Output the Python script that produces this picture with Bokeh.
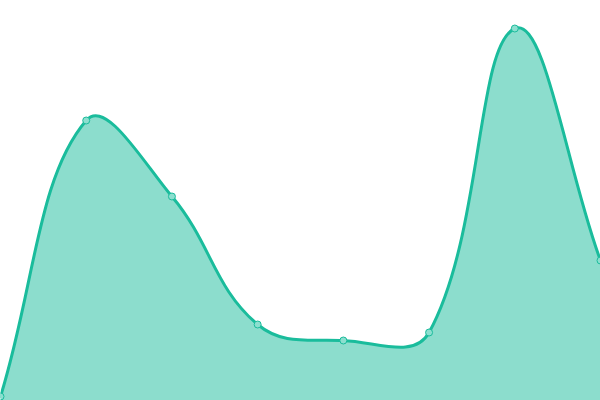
import numpy as np
from bokeh.plotting import figure
from bokeh.embed import file_html
from bokeh.resources import INLINE

# data
categories = list(range(8))
values = [1, 70, 51, 19, 15, 17, 93, 35]
y_min, y_max = 0, 100

W, H = 600, 400
TENSION = 0.4
LINE = "#1abc9c"
POINT_FILL = "#8cdfcf"

x = np.array(categories, dtype=float)
y = np.array(values, dtype=float)
sx = W / (len(x) - 1)
sy = H / (y_max - y_min)

# Chart.js style spline control points, computed in pixel space
px, py = x * sx, y * sy
n = len(px)
cp_prev = np.zeros((n, 2))
cp_next = np.zeros((n, 2))
for i in range(n):
    pi = max(i - 1, 0)
    ni = min(i + 1, n - 1)
    d01 = np.hypot(px[i] - px[pi], py[i] - py[pi])
    d12 = np.hypot(px[ni] - px[i], py[ni] - py[i])
    tot = d01 + d12
    s01 = d01 / tot if tot else 0
    s12 = d12 / tot if tot else 0
    fa, fb = TENSION * s01, TENSION * s12
    dx, dy = px[ni] - px[pi], py[ni] - py[pi]
    cp_prev[i] = (px[i] - fa * dx, py[i] - fa * dy)
    cp_next[i] = (px[i] + fb * dx, py[i] + fb * dy)
# cap to chart area
cp_prev[:, 0] = np.clip(cp_prev[:, 0], 0, W); cp_prev[:, 1] = np.clip(cp_prev[:, 1], 0, H)
cp_next[:, 0] = np.clip(cp_next[:, 0], 0, W); cp_next[:, 1] = np.clip(cp_next[:, 1], 0, H)

# back to data units
x0, y0 = x[:-1], y[:-1]
x1, y1 = x[1:], y[1:]
cx0, cy0 = cp_next[:-1, 0] / sx, cp_next[:-1, 1] / sy
cx1, cy1 = cp_prev[1:, 0] / sx, cp_prev[1:, 1] / sy

# sample curve for the filled area
t = np.linspace(0, 1, 60)[:, None]
bx = ((1 - t) ** 3 * x0 + 3 * (1 - t) ** 2 * t * cx0 + 3 * (1 - t) * t ** 2 * cx1 + t ** 3 * x1).T.ravel()
by = ((1 - t) ** 3 * y0 + 3 * (1 - t) ** 2 * t * cy0 + 3 * (1 - t) * t ** 2 * cy1 + t ** 3 * y1).T.ravel()

p = figure(width=W, height=H, output_backend="svg", toolbar_location=None,
           x_range=(x[0], x[-1]), y_range=(y_min, y_max),
           x_axis_location=None, y_axis_location=None, min_border=0)
p.grid.visible = False
p.outline_line_color = None
p.background_fill_color = "white"
p.border_fill_color = "white"

p.varea(x=bx, y1=y_min, y2=by, fill_color=LINE, fill_alpha=0.5)
p.bezier(x0=x0, y0=y0, x1=x1, y1=y1, cx0=cx0, cy0=cy0, cx1=cx1, cy1=cy1,
         line_color=LINE, line_width=3, line_cap="round")
p.scatter(x=x, y=y, size=7, fill_color=POINT_FILL,
          line_color=LINE, line_width=1)

open("out.html", "w").write(file_html(p, INLINE))
